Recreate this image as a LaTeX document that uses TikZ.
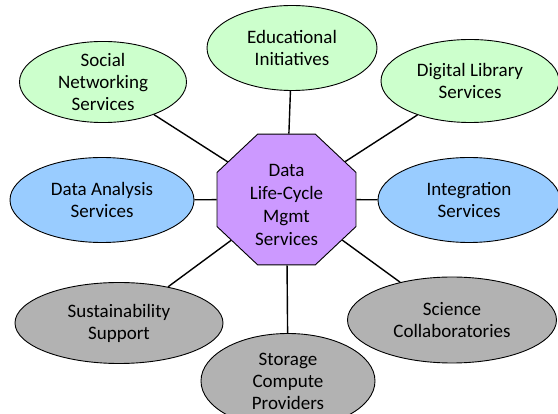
\documentclass[tikz,border=0pt]{standalone}
\usepackage{fontspec}
\setmainfont{Carlito}
\usetikzlibrary{shapes.geometric}
\definecolor{grn}{RGB}{204,255,204}
\definecolor{blu}{RGB}{153,204,255}
\definecolor{gry}{RGB}{178,178,178}
\definecolor{pur}{RGB}{204,153,255}
\begin{document}
\begin{tikzpicture}[x=1pt,y=-1pt,
  txt/.style={align=center,font=\fontsize{19}{22}\selectfont,inner sep=0pt},
  oval/.style={ellipse,draw=black,line width=0.9pt,inner sep=0pt,txt},
  hub/.style={regular polygon,regular polygon sides=8,minimum size=146pt,inner sep=0pt,
    draw=black,line width=0.9pt,fill=pur},
  link/.style={line width=1.4pt,black}]
\useasboundingbox (0,0) rectangle (558,414);
\begin{scope}[shift={(286.5,199.5)}]
\node[hub,xscale=1.03,yscale=0.97] (c) at (0,0) {};
\end{scope}
\node[txt,font=\fontsize{19}{23}\selectfont] (ct) at (286.5,204.5) {Data\\Life-Cycle\\Mgmt\\Services};
\node[oval,fill=grn,minimum width=167pt,minimum height=81pt] (soc) at (103,82) {Social\\Networking\\Services};
\node[oval,fill=grn,minimum width=170pt,minimum height=85pt] (edu) at (292,48) {Educational\\Initiatives};
\node[oval,fill=grn,minimum width=178pt,minimum height=83pt] (dig) at (470,81) {Digital Library\\Services};
\node[oval,fill=blu,minimum width=184pt,minimum height=85pt] (ana) at (102,200) {Data Analysis\\Services};
\node[oval,fill=blu,minimum width=182pt,minimum height=85pt] (int) at (469,200) {Integration\\Services};
\node[oval,fill=gry,minimum width=208pt,minimum height=81pt] (sus) at (119,323) {Sustainability\\Support};
\node[oval,fill=gry,minimum width=209pt,minimum height=86pt] (sci) at (452,320) {Science\\Collaboratories};
\node[oval,fill=gry,minimum width=174pt,minimum height=95pt] (sto) at (288,381) {Storage\\Compute\\Providers};
\draw[link] (soc) -- (c);
\draw[link] (edu) -- (c);
\draw[link] (dig) -- (c);
\draw[link] (ana) -- (c);
\draw[link] (int) -- (c);
\draw[link] (sus) -- (c);
\draw[link] (sci) -- (c);
\draw[link] (sto) -- (c);
\end{tikzpicture}
\end{document}
